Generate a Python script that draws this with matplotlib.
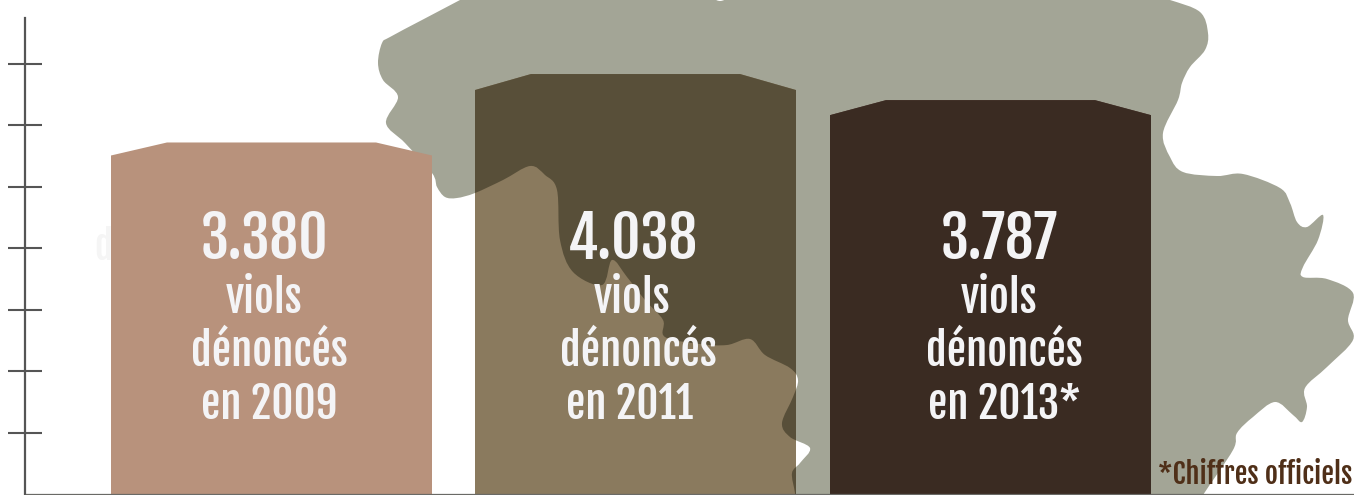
import numpy as np
import matplotlib
matplotlib.use("Agg")
import matplotlib.pyplot as plt
from matplotlib.path import Path
from matplotlib.patches import PathPatch
from matplotlib import font_manager as fm

years = ["2009", "2011", "2013*"]
values = [3380, 4038, 3787]
value_labels = ["3.380", "4.038", "3.787"]
tick_values = [591 * k for k in range(1, 8)]

W, H = 1354, 495
names = {f.name for f in fm.fontManager.ttflist}
FONT = next((n for n in ["Fjalla One", "Oswald", "Antonio", "Roboto Condensed", "Liberation Sans Narrow", "Liberation Sans"] if n in names), "DejaVu Sans")

fig = plt.figure(figsize=(W / 100, H / 100), dpi=100, facecolor="white")
bg = fig.add_axes([0, 0, 1, 1], zorder=0)
bg.set_xlim(0, W); bg.set_ylim(H, 0); bg.axis("off")
ax = fig.add_axes([0, 0, 1, 1], zorder=1)
ax.patch.set_alpha(0)
PX = 0.104
ax.set_xlim(0, W)
ax.set_ylim(-1 / PX, 494 / PX)
px = bg.transData


def smooth(pts):
    p = np.array(pts, float)
    n = len(p)
    verts = [p[0]]; codes = [Path.MOVETO]
    for i in range(n):
        p0, p1, p2, p3 = p[(i - 1) % n], p[i], p[(i + 1) % n], p[(i + 2) % n]
        verts += [p1 + (p2 - p0) / 6, p2 - (p3 - p1) / 6, p2]
        codes += [Path.CURVE4] * 3
    return verts, codes


outer = [(475, -8), (460, 0), (422, 20), (390, 37), (382, 43), (378, 63), (383, 80), (398, 97), (386, 123), (405, 143), (432, 173),
         (437, 187), (445, 197), (457, 198), (475, 193), (503, 180), (530, 166), (545, 175), (557, 190), (560, 240),
         (573, 272), (602, 285), (612, 260), (627, 277), (645, 300), (663, 320), (665, 337), (700, 344), (727, 345),
         (750, 339), (765, 355), (790, 368), (798, 380), (793, 397), (782, 423), (790, 437), (810, 448),
         (800, 463), (792, 473), (795, 493), (797, 510), (1000, 515), (1195, 510), (1203, 495), (1233, 450), (1237, 433),
         (1253, 417), (1275, 402), (1293, 415), (1302, 422), (1307, 407), (1305, 388), (1327, 367),
         (1353, 340), (1348, 320), (1353, 293), (1327, 279), (1303, 277), (1303, 267), (1318, 240),
         (1323, 215), (1307, 227), (1297, 222), (1290, 203), (1280, 188), (1243, 174), (1217, 176),
         (1183, 172), (1170, 157), (1163, 133), (1178, 100), (1182, 83), (1190, 67), (1205, 50),
         (1208, 33), (1200, 12), (1170, 0), (1140, -8), (735, -8), (728, -2), (720, 1), (712, -2), (700, -8), (500, -8)]
hole = [(947, 505), (956, 470), (964, 445), (963, 426), (925, 440), (915, 453), (921, 477),
        (905, 491), (880, 505), (910, 515)]
v1, c1 = smooth(outer)
v2, c2 = smooth(hole)
map_path = Path(np.array(v1 + v2), c1 + c2)

MAP = "#a3a596"
bg.add_patch(PathPatch(map_path, fc=MAP, ec="none"))

bar_left = [111, 475, 830]
bar_w = 321
inset = 56
shoulder = [13, 16, 15]
light = ["#b8927c", "#8a7a5e", "#5c443c"]
dark = [None, "#584f39", "#3a2b22"]

# faint letter left of the first bar
bg.text(94, 260, "d", fontsize=27, family=FONT, color="#f5f5f5", zorder=1)

for i, val in enumerate(values):
    l, r = bar_left[i], bar_left[i] + bar_w
    sh = shoulder[i] / PX
    poly = Path([(l, -1 / PX), (l, val - sh), (l + inset, val), (r - inset, val), (r, val - sh),
                 (r, -1 / PX), (l, -1 / PX)], closed=True)
    bar = PathPatch(poly, fc=light[i], ec="none", zorder=2)
    ax.add_patch(bar)
    if dark[i]:
        over = PathPatch(map_path, fc=dark[i], ec="none", zorder=2.5, transform=px)
        ax.add_patch(over)
        over.set_clip_path(bar)

# axis
for s in ("top", "right"):
    ax.spines[s].set_visible(False)
ax.spines["left"].set_position(("data", 24.5))
ax.spines["left"].set_bounds(0, 476 / PX)
ax.spines["left"].set_color("#555555")
ax.spines["left"].set_linewidth(1.6)
ax.spines["left"].set_zorder(1)
ax.spines["bottom"].set_position(("data", 0))
ax.spines["bottom"].set_bounds(26, W)
ax.spines["bottom"].set_color("#6a6a66")
ax.spines["bottom"].set_linewidth(0.9)
ax.spines["bottom"].set_zorder(4)
ax.set_xticks([])
ax.set_yticks(tick_values)
ax.set_yticklabels([""] * len(tick_values))
ax.tick_params(axis="y", direction="inout", length=24, width=1.5, color="#555555")

# texts
WHITE = "#f4f4f6"
val_x = [265, 632.5, 999.5]
viols_x = [264, 632, 999]
den_x = [269.5, 638, 1004]
year_x = [269, 630, 1004]
ft = dict(family=FONT, color=WHITE, ha="center", va="baseline", transform=px, zorder=5)
for i in range(3):
    ax.text(val_x[i], 259, value_labels[i], fontsize=41, **ft)
    ax.text(viols_x[i], 313, "viols", fontsize=31, **ft)
    ax.text(den_x[i], 366, "dénoncés", fontsize=31, **ft)
    ax.text(year_x[i], 419, "en " + years[i], fontsize=31, **ft)
ax.text(1352, 484, "*Chiffres officiels", family=FONT, fontsize=20.5, color="#4f2f18",
        ha="right", va="baseline", transform=px, zorder=5)

fig.savefig("out.png", dpi=100, facecolor="white")
